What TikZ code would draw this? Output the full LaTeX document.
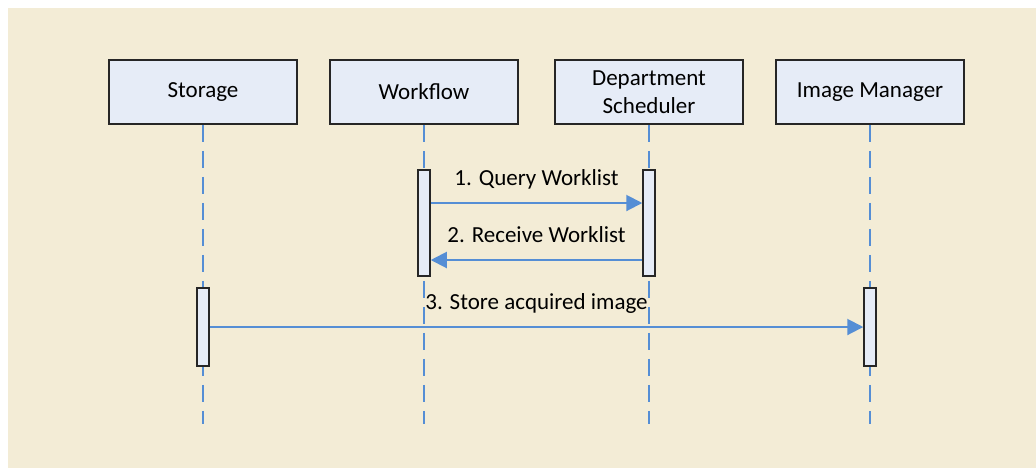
\documentclass[tikz,border=0pt]{standalone}
\usepackage{fontspec}
\setmainfont{Carlito}
\usetikzlibrary{arrows.meta,positioning}
\definecolor{bgbeige}{RGB}{243,236,214}
\definecolor{boxfill}{RGB}{230,236,247}
\definecolor{lineblue}{RGB}{85,142,213}

\begin{document}
\begin{tikzpicture}[
    x=0.5pt, y=-0.5pt,
    font=\fontsize{11.5}{14}\selectfont,
    actor/.style={draw=black!85, fill=boxfill, line width=0.75pt, minimum width=94pt, minimum height=32pt, align=center, inner sep=2pt},
    activ/.style={draw=black!85, fill=boxfill, line width=0.75pt, minimum width=6pt, inner sep=0pt},
    lifeline/.style={lineblue, line width=1pt, dash pattern=on 8.5pt off 4.5pt},
    msg/.style={lineblue, line width=1pt, -{Triangle[length=8pt,width=8pt]}},
    msglabel/.style={midway, anchor=base, yshift=9pt, inner sep=0pt, text=black}
]
  % background
  \useasboundingbox (0,0) rectangle (1036,468);
  \fill[bgbeige] (8,8) rectangle (1036,468);

  % actors
  \node[actor] (storage)  at (203,92) {Storage};
  \node[actor] (workflow) at (424,92) {Workflow};
  \node[actor] (deptsch)  at (649,92) {Department\\Scheduler};
  \node[actor] (imgmgr)   at (870,92) {Image Manager};

  % lifelines
  \foreach \a in {storage,workflow,deptsch,imgmgr}
    \draw[lifeline] (\a.south) -- (\a.south |- 0,424);

  % activations
  \node[activ, minimum height=39pt] (storageact)  at (203,327) {};
  \node[activ, minimum height=53pt] (workflowact) at (424,223) {};
  \node[activ, minimum height=53pt] (deptschact)  at (649,223) {};
  \node[activ, minimum height=39pt] (imgmgract)   at (870,327) {};

  % messages
  \draw[msg] (workflowact.east |- 0,203) -- (deptschact.west |- 0,203)
    node[msglabel] {1. Query Worklist};
  \draw[msg] (deptschact.west |- 0,260) -- (workflowact.east |- 0,260)
    node[msglabel] {2. Receive Worklist};
  \draw[msg] (storageact.east |- 0,327) -- (imgmgract.west |- 0,327)
    node[msglabel] {3. Store acquired image};
\end{tikzpicture}
\end{document}
